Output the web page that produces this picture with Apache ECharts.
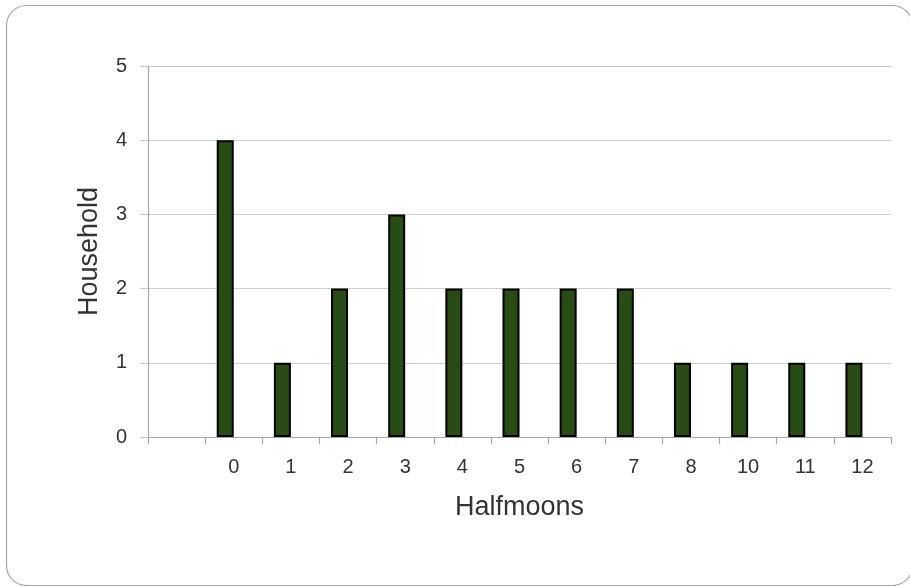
<!DOCTYPE html>
<html>
<head>
<meta charset="utf-8">
<script src="https://cdn.jsdelivr.net/npm/echarts@6/dist/echarts.min.js"></script>
<style>
  html, body { margin: 0; padding: 0; background: #fff; }
  #chart { width: 910px; height: 586px; }
</style>
</head>
<body>
<div id="chart"></div>
<script>
// Number of halfmoons per household (first slot is an empty category)
const categories = ['', '0', '1', '2', '3', '4', '5', '6', '7', '8', '10', '11', '12'];
const households = [null, 4, 1, 2, 3, 2, 2, 2, 2, 1, 1, 1, 1];
const yTicks = { min: 0, max: 5, interval: 1 };

const chart = echarts.init(document.getElementById('chart'), null, { renderer: 'canvas' });

const fontFamily = '"Liberation Sans", Arial, sans-serif';

chart.setOption({
  animation: false,
  backgroundColor: '#fff',
  graphic: [{
    type: 'rect',
    shape: { x: 6.5, y: 5.5, width: 906, height: 580, r: 20 },
    style: { fill: 'none', stroke: '#a6a6a6', lineWidth: 1.2 },
    silent: true
  }],
  grid: { left: 148, right: 19, top: 66, bottom: 149, containLabel: false },
  xAxis: {
    type: 'category',
    data: categories,
    name: 'Halfmoons',
    nameLocation: 'middle',
    nameGap: 57,
    nameTextStyle: { fontFamily, fontSize: 27, color: '#333' },
    axisLine: { show: true, lineStyle: { color: '#a6a6a6', width: 1.2 } },
    axisTick: { show: true, length: 7, lineStyle: { color: '#a6a6a6', width: 1.2 } },
    axisLabel: { fontFamily, fontSize: 20, color: '#333', margin: 20, interval: 0 },
    splitLine: { show: false }
  },
  yAxis: {
    type: 'value',
    min: yTicks.min,
    max: yTicks.max,
    interval: yTicks.interval,
    name: 'Household',
    nameLocation: 'middle',
    nameGap: 45,
    nameRotate: 90,
    nameTextStyle: { fontFamily, fontSize: 27, color: '#333' },
    axisLine: { show: true, lineStyle: { color: '#a6a6a6', width: 1.2 } },
    axisTick: { show: true, length: 8, lineStyle: { color: '#c8c8c8', width: 1.2 } },
    axisLabel: { fontFamily, fontSize: 20, color: '#333', margin: 21 },
    splitLine: { show: true, lineStyle: { color: '#cfcfcf', width: 1.2 } }
  },
  series: [
    {
      type: 'bar',
      data: households,
      barWidth: 17,
      barGap: '0%',
      itemStyle: { color: '#284d14', borderColor: '#000', borderWidth: 2 }
    },
    {
      // empty companion series keeps each bar to the left of its slot
      type: 'bar',
      data: categories.map(() => null),
      barWidth: 17
    }
  ]
});
</script>
</body>
</html>
